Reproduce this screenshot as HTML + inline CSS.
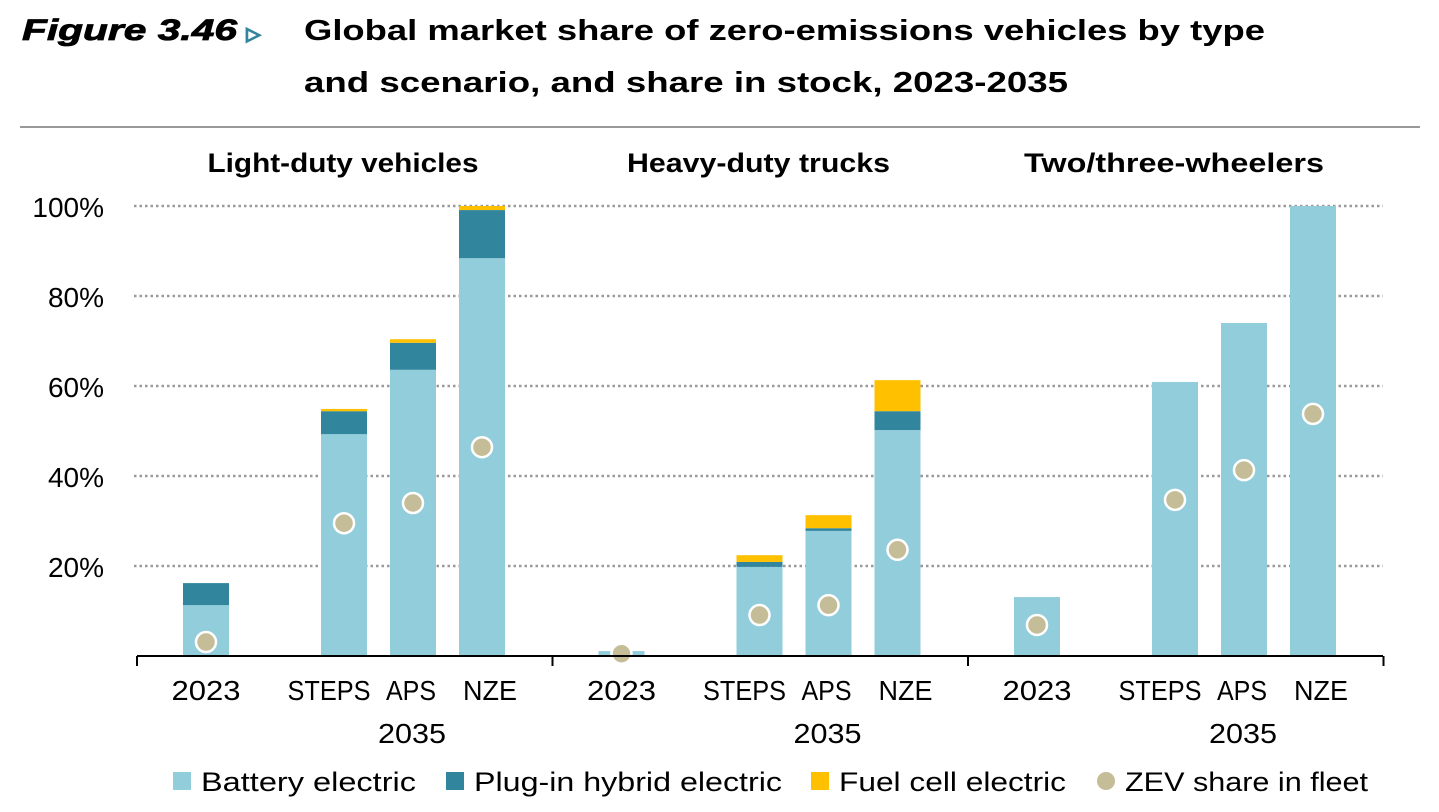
<!DOCTYPE html>
<html><head><meta charset="utf-8"><style>
body{margin:0;background:#fff;width:1439px;height:807px;overflow:hidden;font-family:"Liberation Sans",sans-serif}
</style></head><body>
<svg width="1439" height="807" xmlns="http://www.w3.org/2000/svg">
<text x="22" y="40" font-size="30" font-weight="bold" font-style="italic" fill="#000" textLength="215" lengthAdjust="spacingAndGlyphs" stroke="#000" stroke-width="0.8">Figure 3.46</text>
<text x="246" y="43" font-size="30" font-weight="bold" fill="#31859c">▹</text>
<text x="304" y="40" font-size="29" font-weight="bold" fill="#000" textLength="961" lengthAdjust="spacingAndGlyphs">Global market share of zero-emissions vehicles by type</text>
<text x="304" y="92" font-size="29" font-weight="bold" fill="#000" textLength="764" lengthAdjust="spacingAndGlyphs">and scenario, and share in stock, 2023-2035</text>
<line x1="20" y1="127" x2="1420" y2="127" stroke="#999" stroke-width="2"/>
<g id="plot"></g>
</svg>
<script>
const panels=["Light-duty vehicles","Heavy-duty trucks","Two/three-wheelers"];
const categories=["2023","STEPS","APS","NZE"];
const bev=[[11.3,49.3,63.6,88.4],[1.1,19.8,27.8,50.2],[13.1,60.9,74,100]];
const phev=[[4.9,5.1,6,10.7],[0,1.1,0.6,4.2],[0,0,0,0]];
const fcev=[[0,0.5,0.8,0.9],[0,1.5,2.9,6.9],[0,0,0,0]];
const fleet=[[3.1,29.5,34,46.4],[0.5,9.1,11.3,23.6],[6.9,34.7,41.3,53.8]];
const yTicks=[20,40,60,80,100];
const NS="http://www.w3.org/2000/svg";
const g=document.getElementById('plot');
const y=v=>656-v*4.5;
const panelX=p=>137+p*415.5;
const barX=(p,i)=>panelX(p)+69+(i===0?0:69*(i+1));
const panelW=[271,263,300];
const catW=[69,83,50,54];
const catShift=[0,-15,-2,8];
function el(t,a,txt){const e=document.createElementNS(NS,t);for(const k in a)e.setAttribute(k,a[k]);if(txt!==undefined)e.textContent=txt;g.appendChild(e);return e;}
yTicks.forEach(t=>{
 const l=el('line',{x1:134,x2:1383,y1:y(t),y2:y(t),stroke:'#999','stroke-width':2.5,'stroke-dasharray':'2.5 3'});
 
 
 const tx=el('text',{x:104,y:y(t)+11,'font-size':28,'text-anchor':'end',fill:'#000'},t+'%');
 
 
});
panels.forEach((pn,p)=>{
 const h=el('text',{x:panelX(p)+206,y:172,'font-size':27,'font-weight':'bold','text-anchor':'middle',textLength:panelW[p],lengthAdjust:'spacingAndGlyphs'},pn);
 
 
 categories.forEach((c,i)=>{
  const cx=barX(p,i);
  const segs=[[0,bev[p][i],'#92cddc','bev'],[bev[p][i],phev[p][i],'#31859c','phev'],[bev[p][i]+phev[p][i],fcev[p][i],'#ffc000','fcev']];
  segs.forEach(s=>{if(s[1]<=0)return;
   const r=el('rect',{x:cx-23,width:46,y:y(s[0]+s[1]),height:s[1]*4.5,fill:s[2]});
   
   
  });
  const d=el('circle',{cx:cx,cy:y(fleet[p][i]),r:10,fill:'#c4bd97',stroke:'#fff','stroke-width':2.5});
  
  
  const t=el('text',{x:cx+catShift[i],y:700,'font-size':28,'text-anchor':'middle',textLength:catW[i],lengthAdjust:'spacingAndGlyphs'},c);
  
  
 });
 const yr=el('text',{x:barX(p,2)-1,y:743,'font-size':28,'text-anchor':'middle',textLength:68,lengthAdjust:'spacingAndGlyphs'},'2035');
 
 
});
const ax=el('line',{x1:137,x2:1383,y1:656,y2:656,stroke:'#000','stroke-width':2});


[0,1,2,3].forEach(k=>{const t=el('line',{x1:panelX(k),x2:panelX(k),y1:656,y2:666,stroke:'#000','stroke-width':2});
 
 });
const leg=[["rect","#92cddc","Battery electric",173,215],["rect","#31859c","Plug-in hybrid electric",446,308],["rect","#ffc000","Fuel cell electric",811,227],["circle","#c4bd97","ZEV share in fleet",1097,243]];
leg.forEach(L=>{
 let m;
 if(L[0]==='rect')m=el('rect',{x:L[3],y:772,width:18,height:18,fill:L[1]});
 else m=el('circle',{cx:L[3]+9,cy:781,r:9,fill:L[1]});
 
 
 const t=el('text',{x:L[3]+28,y:791,'font-size':27,textLength:L[4],lengthAdjust:'spacingAndGlyphs'},L[2]);
 
 
});
</script>
</body></html>
